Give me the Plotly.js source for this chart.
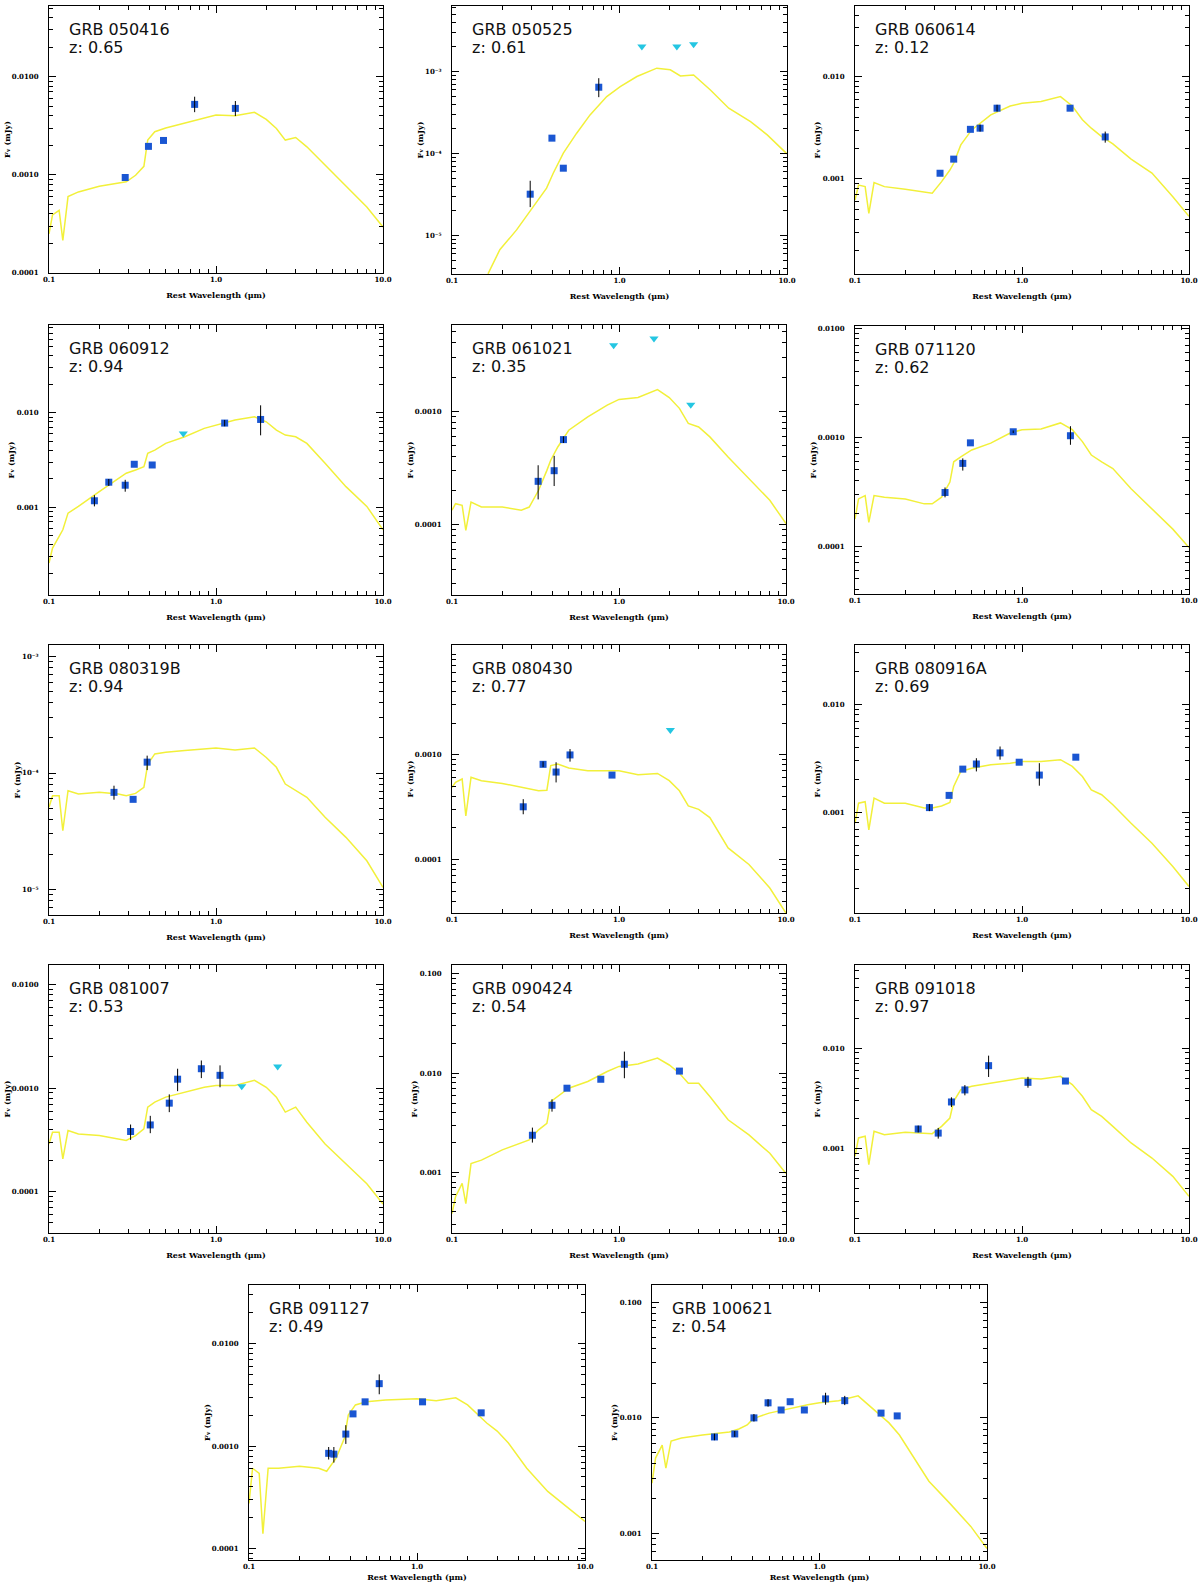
<!DOCTYPE html>
<html>
<head>
<meta charset="utf-8">
<script src="https://cdn.plot.ly/plotly-3.0.1.min.js"></script>
<style>
  html, body { margin: 0; padding: 0; background: #fff; }
  #sed { width: 1200px; height: 1582px; }
</style>
</head>
<body>
<div id="sed"></div>
<script>
var tplWave = [0.1,0.105,0.115,0.121,0.13,0.15,0.2,0.26,0.29,0.33,0.37,0.39,0.43,0.5,0.65,0.85,1.0,1.3,1.7,2.0,2.3,2.6,3.0,3.5,4.5,6.0,8.0,10.0];

// GRB 050416
var tpl050416 = [2.5e-4,3.9e-4,4.35e-4,2.15e-4,6.0e-4,6.7e-4,7.65e-4,8.3e-4,8.5e-4,9.9e-4,1.22e-3,2.26e-3,2.75e-3,3.0e-3,3.35e-3,3.76e-3,4.06e-3,4.0e-3,4.33e-3,3.67e-3,2.97e-3,2.26e-3,2.4e-3,1.93e-3,1.26e-3,7.85e-4,4.7e-4,2.94e-4];
var lam050416 = [0.286,0.394,0.485,0.745,1.306];
var flux050416 = [9.4e-4,1.95e-3,2.24e-3,5.22e-3,4.75e-3];
var hi050416 = [9.4e-4,1.95e-3,2.24e-3,6.25e-3,5.65e-3];
var lo050416 = [9.4e-4,1.95e-3,2.24e-3,4.35e-3,3.97e-3];

// GRB 050525
var wave050525 = [0.164,0.193,0.243,0.305,0.367,0.402,0.462,0.555,0.667,0.839,1.01,1.27,1.67,2.01,2.31,2.77,3.49,4.49,6.06,7.62,10.0];
var tpl050525 = [3.4e-6,6.7e-6,1.17e-5,2.26e-5,3.78e-5,5.75e-5,1.01e-4,1.77e-4,2.96e-4,4.95e-4,6.56e-4,8.7e-4,1.10e-3,1.05e-3,8.85e-4,9.1e-4,5.97e-4,3.57e-4,2.45e-4,1.69e-4,9.9e-5];
var lam050525 = [0.293,0.395,0.462,0.752];
var flux050525 = [3.19e-5,1.54e-4,6.62e-5,6.44e-4];
var hi050525 = [4.65e-5,1.54e-4,6.62e-5,8.3e-4];
var lo050525 = [2.22e-5,1.54e-4,6.62e-5,4.87e-4];
var ulLam050525 = [1.36,2.20,2.77];
var ulFlux050525 = [2.02e-3,2.02e-3,2.15e-3];

// GRB 060614
var tpl060614 = [6.2e-4,8.7e-4,8.4e-4,4.6e-4,9.2e-4,8.4e-4,7.9e-4,7.35e-4,7.24e-4,9.4e-4,1.22e-3,1.42e-3,2.15e-3,3.01e-3,4.22e-3,5.16e-3,5.48e-3,5.7e-3,6.38e-3,5.16e-3,3.78e-3,3.13e-3,2.59e-3,2.2e-3,1.56e-3,1.14e-3,6.7e-4,4.3e-4];
var lam060614 = [0.323,0.390,0.491,0.561,0.709,1.94,3.15];
var flux060614 = [1.135e-3,1.56e-3,3.05e-3,3.13e-3,4.91e-3,4.91e-3,2.57e-3];
var hi060614 = [1.135e-3,1.56e-3,3.05e-3,3.4e-3,5.3e-3,4.91e-3,2.9e-3];
var lo060614 = [1.135e-3,1.56e-3,3.05e-3,2.9e-3,4.55e-3,4.91e-3,2.26e-3];

// GRB 060912
var tpl060912 = [2.56e-4,3.69e-4,4.9e-4,5.77e-4,8.65e-4,1.02e-3,1.46e-3,2.02e-3,2.29e-3,2.48e-3,2.69e-3,3.72e-3,4.03e-3,4.74e-3,5.57e-3,6.84e-3,7.41e-3,8.37e-3,9.08e-3,8.03e-3,6.56e-3,5.81e-3,5.57e-3,4.74e-3,2.92e-3,1.65e-3,1.02e-3,5.77e-4];
var lam060912 = [0.187,0.228,0.286,0.324,0.415,1.127,1.85];
var flux060912 = [1.17e-3,1.84e-3,1.71e-3,2.85e-3,2.8e-3,7.78e-3,8.5e-3];
var hi060912 = [1.34e-3,1.99e-3,1.95e-3,2.85e-3,2.8e-3,8.4e-3,1.2e-2];
var lo060912 = [1.02e-3,1.68e-3,1.46e-3,2.85e-3,2.8e-3,7.2e-3,5.77e-3];
var ulLam060912 = [0.637];
var ulFlux060912 = [6.05e-3];

// GRB 061021
var tpl061021 = [1.34e-4,1.53e-4,1.48e-4,8.9e-5,1.58e-4,1.43e-4,1.43e-4,1.34e-4,1.43e-4,2.01e-4,3.01e-4,3.7e-4,4.84e-4,6.8e-4,8.9e-4,1.13e-3,1.27e-3,1.32e-3,1.55e-3,1.32e-3,1.06e-3,7.8e-4,7.27e-4,5.94e-4,3.95e-4,2.55e-4,1.64e-4,1.02e-4];
var lam061021 = [0.328,0.409,0.465];
var flux061021 = [2.41e-4,2.99e-4,5.62e-4];
var hi061021 = [3.34e-4,4.04e-4,6.0e-4];
var lo061021 = [1.67e-4,2.19e-4,5.25e-4];
var ulLam061021 = [0.929,1.62,2.69];
var ulFlux061021 = [3.82e-3,4.38e-3,1.14e-3];

// GRB 071120
var tpl071120 = [1.77e-4,2.71e-4,2.91e-4,1.65e-4,2.91e-4,2.81e-4,2.71e-4,2.44e-4,2.44e-4,2.81e-4,3.87e-4,5.94e-4,6.6e-4,7.62e-4,8.8e-4,1.09e-3,1.17e-3,1.19e-3,1.35e-3,1.17e-3,9.1e-4,6.85e-4,5.94e-4,5.15e-4,3.36e-4,2.19e-4,1.43e-4,9.7e-5];
var lam071120 = [0.346,0.442,0.491,0.886,1.95];
var flux071120 = [3.1e-4,5.74e-4,8.86e-4,1.12e-3,1.03e-3];
var hi071120 = [3.45e-4,6.38e-4,8.86e-4,1.15e-3,1.26e-3];
var lo071120 = [2.8e-4,4.93e-4,8.86e-4,1.09e-3,8.5e-4];

// GRB 080319B
var tpl080319B = [5.07e-5,6.38e-5,6.38e-5,3.19e-5,7.05e-5,6.6e-5,6.82e-5,6.6e-5,6.38e-5,6.68e-5,7.53e-5,1.19e-4,1.46e-4,1.51e-4,1.56e-4,1.61e-4,1.64e-4,1.58e-4,1.64e-4,1.36e-4,1.12e-4,8.04e-5,7.05e-5,6.18e-5,4.16e-5,2.8e-5,1.76e-5,1.04e-5];
var lam080319B = [0.245,0.319,0.387];
var flux080319B = [6.82e-5,5.94e-5,1.24e-4];
var hi080319B = [7.78e-5,5.94e-5,1.41e-4];
var lo080319B = [5.9e-5,5.94e-5,1.06e-4];

// GRB 080430
var tpl080430 = [4.87e-4,5.43e-4,5.85e-4,2.6e-4,6.07e-4,5.64e-4,5.31e-4,4.86e-4,4.69e-4,4.52e-4,4.58e-4,7.85e-4,8.14e-4,7.45e-4,7.03e-4,7.03e-4,7.03e-4,6.43e-4,6.62e-4,5.64e-4,4.52e-4,3.24e-4,3.01e-4,2.51e-4,1.29e-4,8.96e-5,5.35e-5,3.08e-5];
var lam080430 = [0.267,0.351,0.420,0.509,0.908];
var flux080430 = [3.18e-4,8.08e-4,6.82e-4,9.93e-4,6.38e-4];
var hi080430 = [3.76e-4,8.6e-4,8.45e-4,1.13e-3,6.38e-4];
var lo080430 = [2.7e-4,7.6e-4,5.43e-4,8.57e-4,6.38e-4];
var ulLam080430 = [2.03];
var ulFlux080430 = [1.72e-3];

// GRB 080916A
var tpl080916A = [7.96e-4,1.22e-3,1.26e-3,6.92e-4,1.36e-3,1.22e-3,1.22e-3,1.1e-3,1.1e-3,1.15e-3,1.24e-3,1.74e-3,2.4e-3,2.57e-3,2.76e-3,2.86e-3,2.97e-3,2.97e-3,3.08e-3,2.67e-3,2.15e-3,1.62e-3,1.46e-3,1.18e-3,7.96e-4,5.2e-4,3.16e-4,2.07e-4];
var lam080916A = [0.279,0.366,0.442,0.533,0.739,0.962,1.27,2.10];
var flux080916A = [1.11e-3,1.44e-3,2.52e-3,2.81e-3,3.56e-3,2.92e-3,2.22e-3,3.25e-3];
var hi080916A = [1.2e-3,1.44e-3,2.52e-3,3.18e-3,4.08e-3,2.92e-3,2.86e-3,3.25e-3];
var lo080916A = [1.03e-3,1.44e-3,2.52e-3,2.4e-3,3.08e-3,2.92e-3,1.77e-3,3.25e-3];

// GRB 081007
var tpl081007 = [2.89e-4,3.75e-4,3.75e-4,2.07e-4,3.89e-4,3.61e-4,3.48e-4,3.24e-4,3.12e-4,3.48e-4,4.04e-4,6.55e-4,7.33e-4,8.19e-4,9.14e-4,1.02e-3,1.06e-3,1.06e-3,1.19e-3,1.02e-3,8.19e-4,5.86e-4,6.55e-4,4.69e-4,2.89e-4,1.85e-4,1.19e-4,7.6e-5];
var lam081007 = [0.308,0.404,0.525,0.589,0.817,1.057];
var flux081007 = [3.81e-4,4.41e-4,7.16e-4,1.22e-3,1.54e-3,1.33e-3];
var hi081007 = [4.45e-4,5.4e-4,8.7e-4,1.54e-3,1.85e-3,1.66e-3];
var lo081007 = [3.16e-4,3.67e-4,5.86e-4,9.35e-4,1.25e-3,1.02e-3];
var ulLam081007 = [1.426,2.34];
var ulFlux081007 = [1.04e-3,1.62e-3];

// GRB 090424
var tpl090424 = [3.86e-4,5.69e-4,7.75e-4,4.86e-4,1.23e-3,1.33e-3,1.69e-3,1.97e-3,2.13e-3,2.69e-3,3.13e-3,5.18e-3,5.82e-3,7.06e-3,8.24e-3,1.04e-2,1.17e-2,1.24e-2,1.42e-2,1.21e-2,1.0e-2,7.93e-3,7.93e-3,5.82e-3,3.39e-3,2.39e-3,1.56e-3,9.77e-4];
var lam090424 = [0.303,0.397,0.488,0.778,1.077,2.30];
var flux090424 = [2.37e-3,4.75e-3,7.06e-3,8.69e-3,1.23e-2,1.05e-2];
var hi090424 = [2.83e-3,5.45e-3,7.06e-3,8.69e-3,1.65e-2,1.05e-2];
var lo090424 = [2.0e-3,4.1e-3,7.06e-3,8.69e-3,8.9e-3,1.05e-2];

// GRB 091018
var tpl091018 = [8.4e-4,1.28e-3,1.33e-3,6.93e-4,1.49e-3,1.38e-3,1.46e-3,1.43e-3,1.41e-3,1.67e-3,2.02e-3,2.96e-3,3.87e-3,4.18e-3,4.51e-3,4.87e-3,5.06e-3,4.95e-3,5.26e-3,4.35e-3,3.33e-3,2.45e-3,2.1e-3,1.67e-3,1.14e-3,8.07e-4,5.3e-4,3.35e-4];
var lam091018 = [0.239,0.315,0.378,0.455,0.631,1.086,1.82];
var flux091018 = [1.57e-3,1.43e-3,2.92e-3,3.85e-3,6.72e-3,4.58e-3,4.72e-3];
var hi091018 = [1.7e-3,1.61e-3,3.25e-3,4.3e-3,8.45e-3,5.2e-3,4.72e-3];
var lo091018 = [1.45e-3,1.26e-3,2.6e-3,3.4e-3,5.18e-3,4.05e-3,4.72e-3];

// GRB 091127
var tpl091127 = [2.76e-4,6.08e-4,5.43e-4,1.4e-4,6.08e-4,6.08e-4,6.37e-4,6.08e-4,5.69e-4,7.62e-4,1.2e-3,2.01e-3,2.52e-3,2.7e-3,2.82e-3,2.89e-3,2.89e-3,2.76e-3,2.96e-3,2.52e-3,2.01e-3,1.68e-3,1.4e-3,1.07e-3,6.08e-4,3.62e-4,2.47e-4,1.84e-4];
var lam091127 = [0.298,0.320,0.377,0.416,0.491,0.596,1.079,2.41];
var flux091127 = [8.5e-4,8.35e-4,1.31e-3,2.06e-3,2.7e-3,4.06e-3,2.7e-3,2.11e-3];
var hi091127 = [9.8e-4,9.8e-4,1.6e-3,2.06e-3,2.7e-3,5.0e-3,2.7e-3,2.11e-3];
var lo091127 = [7.4e-4,6.9e-4,1.05e-3,2.06e-3,2.7e-3,3.2e-3,2.7e-3,2.11e-3];

// GRB 100621
var tpl100621 = [2.72e-3,4.49e-3,5.82e-3,3.67e-3,6.31e-3,6.7e-3,7.11e-3,7.41e-3,7.55e-3,8.02e-3,8.69e-3,9.42e-3,1.02e-2,1.1e-2,1.2e-2,1.3e-2,1.35e-2,1.41e-2,1.55e-2,1.27e-2,1.06e-2,9.05e-3,7.11e-3,4.96e-3,2.83e-3,1.82e-3,1.15e-3,7.41e-4];
var lam100621 = [0.236,0.312,0.406,0.493,0.590,0.668,0.812,1.087,1.415,2.33,2.91];
var flux100621 = [6.84e-3,7.26e-3,1.0e-2,1.35e-2,1.17e-2,1.38e-2,1.17e-2,1.46e-2,1.41e-2,1.1e-2,1.04e-2];
var hi100621 = [7.3e-3,7.7e-3,1.08e-2,1.45e-2,1.17e-2,1.38e-2,1.17e-2,1.65e-2,1.55e-2,1.1e-2,1.04e-2];
var lo100621 = [6.4e-3,6.85e-3,9.3e-3,1.25e-2,1.17e-2,1.38e-2,1.17e-2,1.3e-2,1.29e-2,1.1e-2,1.04e-2];

var lbl4 = ["0.0001","0.0010","0.0100"];
var lbl3 = ["0.001","0.010","0.100"];
var lblExp = ["10\u207B\u2075","10\u207B\u2074","10\u207B\u00B3"];

// box = [left, right, top, bottom] in page pixels, yr = log10 y range
var panels = [
  {name:"GRB 050416", z:"0.65", wave:tplWave, tpl:tpl050416, lam:lam050416, flux:flux050416, hi:hi050416, lo:lo050416, ulLam:[], ulFlux:[],
   box:[49,383,6,273], yr:[-4,-1.28], yt:[1e-4,1e-3,1e-2], yl:lbl4},
  {name:"GRB 050525", z:"0.61", wave:wave050525, tpl:tpl050525, lam:lam050525, flux:flux050525, hi:hi050525, lo:lo050525, ulLam:ulLam050525, ulFlux:ulFlux050525,
   box:[452,787,6,274], yr:[-5.47,-2.2], yt:[1e-5,1e-4,1e-3], yl:lblExp},
  {name:"GRB 060614", z:"0.12", wave:tplWave, tpl:tpl060614, lam:lam060614, flux:flux060614, hi:hi060614, lo:lo060614, ulLam:[], ulFlux:[],
   box:[855,1189,6,274], yr:[-3.93,-1.31], yt:[1e-3,1e-2], yl:["0.001","0.010"]},
  {name:"GRB 060912", z:"0.94", wave:tplWave, tpl:tpl060912, lam:lam060912, flux:flux060912, hi:hi060912, lo:lo060912, ulLam:ulLam060912, ulFlux:ulFlux060912,
   box:[49,383,325,595], yr:[-3.93,-1.07], yt:[1e-3,1e-2], yl:["0.001","0.010"]},
  {name:"GRB 061021", z:"0.35", wave:tplWave, tpl:tpl061021, lam:lam061021, flux:flux061021, hi:hi061021, lo:lo061021, ulLam:ulLam061021, ulFlux:ulFlux061021,
   box:[452,786,325,595], yr:[-4.62,-2.24], yt:[1e-4,1e-3], yl:["0.0001","0.0010"]},
  {name:"GRB 071120", z:"0.62", wave:tplWave, tpl:tpl071120, lam:lam071120, flux:flux071120, hi:hi071120, lo:lo071120, ulLam:[], ulFlux:[],
   box:[855,1189,326,594], yr:[-4.44,-1.98], yt:[1e-4,1e-3,1e-2], yl:lbl4},
  {name:"GRB 080319B", z:"0.94", wave:tplWave, tpl:tpl080319B, lam:lam080319B, flux:flux080319B, hi:hi080319B, lo:lo080319B, ulLam:[], ulFlux:[],
   box:[49,383,645,915], yr:[-5.22,-2.9], yt:[1e-5,1e-4,1e-3], yl:lblExp},
  {name:"GRB 080430", z:"0.77", wave:tplWave, tpl:tpl080430, lam:lam080430, flux:flux080430, hi:hi080430, lo:lo080430, ulLam:ulLam080430, ulFlux:ulFlux080430,
   box:[452,786,645,913], yr:[-4.51,-1.955], yt:[1e-4,1e-3], yl:["0.0001","0.0010"]},
  {name:"GRB 080916A", z:"0.69", wave:tplWave, tpl:tpl080916A, lam:lam080916A, flux:flux080916A, hi:hi080916A, lo:lo080916A, ulLam:[], ulFlux:[],
   box:[855,1189,645,913], yr:[-3.93,-1.45], yt:[1e-3,1e-2], yl:["0.001","0.010"]},
  {name:"GRB 081007", z:"0.53", wave:tplWave, tpl:tpl081007, lam:lam081007, flux:flux081007, hi:hi081007, lo:lo081007, ulLam:ulLam081007, ulFlux:ulFlux081007,
   box:[49,383,965,1233], yr:[-4.40,-1.81], yt:[1e-4,1e-3,1e-2], yl:lbl4},
  {name:"GRB 090424", z:"0.54", wave:tplWave, tpl:tpl090424, lam:lam090424, flux:flux090424, hi:hi090424, lo:lo090424, ulLam:[], ulFlux:[],
   box:[452,786,965,1233], yr:[-3.61,-0.91], yt:[1e-3,1e-2,1e-1], yl:lbl3},
  {name:"GRB 091018", z:"0.97", wave:tplWave, tpl:tpl091018, lam:lam091018, flux:flux091018, hi:hi091018, lo:lo091018, ulLam:[], ulFlux:[],
   box:[855,1189,965,1233], yr:[-3.84,-1.17], yt:[1e-3,1e-2], yl:["0.001","0.010"]},
  {name:"GRB 091127", z:"0.49", wave:tplWave, tpl:tpl091127, lam:lam091127, flux:flux091127, hi:hi091127, lo:lo091127, ulLam:[], ulFlux:[],
   box:[249,585,1285,1560], yr:[-4.11,-1.43], yt:[1e-4,1e-3,1e-2], yl:lbl4},
  {name:"GRB 100621", z:"0.54", wave:tplWave, tpl:tpl100621, lam:lam100621, flux:flux100621, hi:hi100621, lo:lo100621, ulLam:[], ulFlux:[],
   box:[652,987,1285,1560], yr:[-3.23,-0.85], yt:[1e-3,1e-2,1e-1], yl:lbl3}
];

var W = 1200, H = 1582;
var tickFont = {family: "DejaVu Serif", size: 7, color: "#000", weight: "bold"};
var titleFont = {family: "DejaVu Serif", size: 8, color: "#000", weight: "bold"};
var minorX = [0.2,0.3,0.4,0.5,0.6,0.7,0.8,0.9,2,3,4,5,6,7,8,9];

function minorY(r) {
  var v = [];
  for (var e = Math.floor(r[0]); e < Math.ceil(r[1]); e++) {
    for (var m = 2; m < 10; m++) v.push(m * Math.pow(10, e));
  }
  return v;
}

var data = [];
var layout = {
  width: W, height: H,
  margin: {l: 0, r: 0, t: 0, b: 0},
  paper_bgcolor: "#fff", plot_bgcolor: "#fff",
  showlegend: false,
  annotations: []
};

panels.forEach(function (p, i) {
  var s = i === 0 ? "" : String(i + 1);
  var xa = "x" + s, ya = "y" + s;
  var b = p.box;

  data.push({x: p.wave, y: p.tpl, xaxis: xa, yaxis: ya, type: "scatter", mode: "lines",
             line: {color: "#f2f03a", width: 1.5}, hoverinfo: "skip"});
  data.push({x: p.lam, y: p.flux, xaxis: xa, yaxis: ya, type: "scatter", mode: "markers",
             marker: {symbol: "square", size: 7, color: "#1a56d2"}});
  // error bars drawn above the squares, as in the original
  data.push({x: p.lam, y: p.flux, xaxis: xa, yaxis: ya, type: "scatter", mode: "markers",
             marker: {size: 1, opacity: 0},
             error_y: {type: "data", symmetric: false,
                       array: p.hi.map(function (h, k) { return h - p.flux[k]; }),
                       arrayminus: p.lo.map(function (l, k) { return p.flux[k] - l; }),
                       color: "#000", thickness: 1, width: 0}});
  if (p.ulLam.length) {
    data.push({x: p.ulLam, y: p.ulFlux, xaxis: xa, yaxis: ya, type: "scatter", mode: "markers",
               marker: {symbol: "triangle-down", size: 8, color: "#24c6e2"}});
  }

  layout["xaxis" + s] = {
    domain: [b[0] / W, b[1] / W], anchor: ya, type: "log", range: [-1, 1],
    tickmode: "array", tickvals: [0.1, 1, 10], ticktext: ["0.1", "1.0", "10.0"],
    ticks: "inside", ticklen: 7, tickcolor: "#000", tickwidth: 1,
    minor: {tickmode: "array", tickvals: minorX, ticks: "inside", ticklen: 4, tickcolor: "#000", showgrid: false},
    showline: true, linecolor: "#000", linewidth: 1, mirror: "ticks",
    showgrid: false, zeroline: false, tickfont: tickFont, fixedrange: true,
    title: {text: "Rest Wavelength (\u03bcm)", font: titleFont, standoff: 8}
  };
  layout["yaxis" + s] = {
    domain: [1 - b[3] / H, 1 - b[2] / H], anchor: xa, type: "log", range: p.yr,
    tickmode: "array", tickvals: p.yt, ticktext: p.yl,
    ticks: "inside", ticklen: 7, tickcolor: "#000", tickwidth: 1, ticklabelstandoff: 8,
    minor: {tickmode: "array", tickvals: minorY(p.yr), ticks: "inside", ticklen: 4, tickcolor: "#000", showgrid: false},
    showline: true, linecolor: "#000", linewidth: 1, mirror: "ticks",
    showgrid: false, zeroline: false, tickfont: tickFont, fixedrange: true,
    title: {text: "F\u1D65 (mJy)", font: titleFont, standoff: 0}
  };

  layout.annotations.push({xref: "paper", yref: "paper", x: (b[0] + 18) / W, y: 1 - (b[2] + 12) / H,
    xanchor: "left", yanchor: "top", showarrow: false, text: p.name,
    font: {family: "DejaVu Sans", size: 16, color: "#111"}});
  layout.annotations.push({xref: "paper", yref: "paper", x: (b[0] + 18) / W, y: 1 - (b[2] + 30) / H,
    xanchor: "left", yanchor: "top", showarrow: false, text: "z: " + p.z,
    font: {family: "DejaVu Sans", size: 16, color: "#111"}});
});

Plotly.newPlot("sed", data, layout, {staticPlot: true, displayModeBar: false});
</script>
</body>
</html>
